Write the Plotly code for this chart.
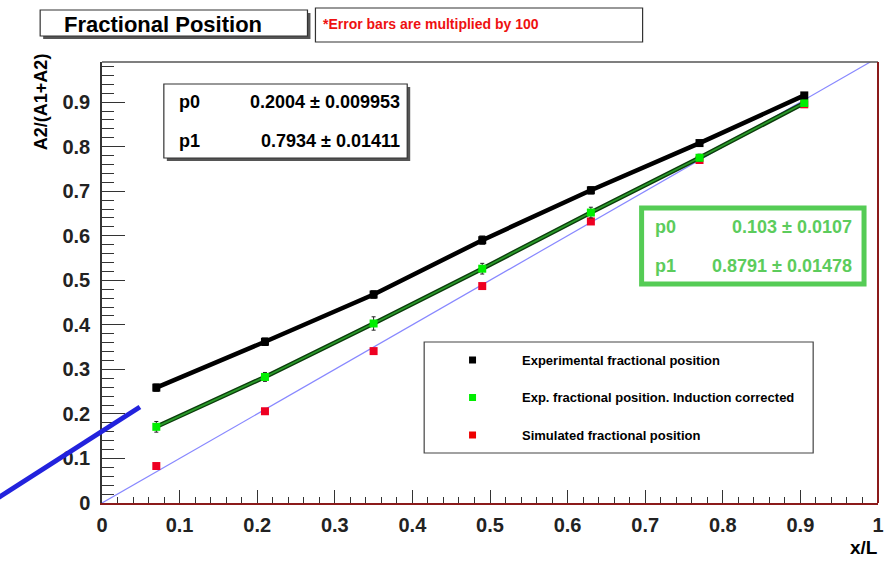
import plotly.graph_objects as go

# ---------------- data ----------------
x_pos = [0.07, 0.21, 0.35, 0.49, 0.63, 0.77, 0.905]
exp_frac = [0.259, 0.362, 0.468, 0.590, 0.702, 0.808, 0.915]
exp_err = [0.008, 0.008, 0.008, 0.009, 0.008, 0.006, 0.006]
corr_frac = [0.171, 0.283, 0.403, 0.526, 0.652, 0.775, 0.898]
corr_err = [0.012, 0.010, 0.015, 0.012, 0.012, 0.008, 0.006]
sim_frac = [0.083, 0.206, 0.341, 0.487, 0.632, 0.770, 0.895]
diag_x = [0.0, 0.99]
diag_y = [0.0, 0.99]
x_ticks = [0, 0.1, 0.2, 0.3, 0.4, 0.5, 0.6, 0.7, 0.8, 0.9, 1]
x_ticktext = ["0", "0.1", "0.2", "0.3", "0.4", "0.5", "0.6", "0.7", "0.8", "0.9", "1"]
y_ticks = [0, 0.1, 0.2, 0.3, 0.4, 0.5, 0.6, 0.7, 0.8, 0.9]
y_ticktext = ["0", "0.1", "0.2", "0.3", "0.4", "0.5", "0.6", "0.7", "0.8", "0.9"]
legend_labels = ["Experimental fractional position",
                 "Exp. fractional position. Induction corrected",
                 "Simulated fractional position"]
legend_colors = ["#000000", "#00ee00", "#ee0000"]
fit_black = ["p0", "0.2004 ± 0.009953", "p1", "0.7934 ± 0.01411"]
fit_green = ["p0", "0.103 ± 0.0107", "p1", "0.8791 ± 0.01478"]

W, H = 896, 576
L, R, T, B = 102, 880, 62, 503
FONT = "Liberation Sans, Arial, sans-serif"


def px(p):
    return (p - L) / (R - L)


def py(p):
    return (B - p) / (B - T)


fig = go.Figure()

# diagonal reference line
fig.add_trace(go.Scatter(x=diag_x, y=diag_y, mode="lines",
                         line=dict(color="#8888ff", width=1.2), showlegend=False))
# simulated
fig.add_trace(go.Scatter(x=x_pos, y=sim_frac, mode="markers",
                         marker=dict(symbol="square", size=8, color="#ee0022"),
                         showlegend=False))
# corrected (dark outline + green core)
fig.add_trace(go.Scatter(x=x_pos, y=corr_frac, mode="lines",
                         line=dict(color="#0b3d0b", width=4.5), showlegend=False))
fig.add_trace(go.Scatter(x=x_pos, y=corr_frac, mode="lines+markers",
                         line=dict(color="#2a9a2a", width=1.8),
                         marker=dict(symbol="square", size=8, color="#00ee00"),
                         error_y=dict(type="data", array=corr_err, color="#222222",
                                      thickness=1, width=2),
                         showlegend=False))
# experimental
fig.add_trace(go.Scatter(x=x_pos, y=exp_frac, mode="lines+markers",
                         line=dict(color="#000000", width=4.5),
                         marker=dict(symbol="square", size=8, color="#000000"),
                         error_y=dict(type="data", array=exp_err, color="#000000",
                                      thickness=1.2, width=3),
                         showlegend=False))

shapes = []
annotations = []

# frame: top and right borders
shapes.append(dict(type="line", xref="paper", yref="paper", x0=0, x1=1, y0=1, y1=1,
                   line=dict(color="#555555", width=1.5)))
shapes.append(dict(type="line", xref="paper", yref="paper", x0=1, x1=1, y0=0, y1=1,
                   line=dict(color="#8b1a1a", width=2)))


def box(x0, y0, x1, y1, color="#333333", width=1.2, shadow=True, fill="white"):
    if shadow:
        shapes.append(dict(type="rect", xref="paper", yref="paper",
                           x0=px(x0 + 3), x1=px(x1 + 3), y0=py(y1 + 3), y1=py(y0 + 3),
                           fillcolor="#555555", line=dict(width=0), layer="above"))
    shapes.append(dict(type="rect", xref="paper", yref="paper",
                       x0=px(x0), x1=px(x1), y0=py(y1), y1=py(y0),
                       fillcolor=fill, line=dict(color=color, width=width), layer="above"))


def text(x, y, s, size, color="#000000", xanchor="left", bold=True, angle=0):
    annotations.append(dict(x=px(x), y=py(y), xref="paper", yref="paper", text=s,
                            showarrow=False, xanchor=xanchor, yanchor="middle",
                            textangle=angle,
                            font=dict(family=FONT, size=size, color=color,
                                      weight="bold" if bold else "normal")))


# title boxes
box(40, 10, 308, 36, shadow=True)
text(163, 24, "Fractional Position", 22, xanchor="center")
box(316, 8, 644, 42, shadow=False)
text(322, 24, "*Error bars are multiplied by 100", 14, color="#ee1111")

# black fit box
box(164, 84, 408, 158)
text(177, 102, fit_black[0], 18)
text(403, 102, fit_black[1], 18, xanchor="right")
text(177, 141, fit_black[2], 18)
text(403, 141, fit_black[3], 18, xanchor="right")

# green fit box
shapes.append(dict(type="rect", xref="paper", yref="paper",
                   x0=px(643), x1=px(866), y0=py(284), y1=py(208),
                   fillcolor="white", line=dict(color="#55cc55", width=5), layer="above"))
text(654, 227, fit_green[0], 18, color="#5ccc5c")
text(856, 227, fit_green[1], 18, color="#5ccc5c", xanchor="right")
text(654, 266, fit_green[2], 18, color="#5ccc5c")
text(856, 266, fit_green[3], 18, color="#5ccc5c", xanchor="right")

# legend box
shapes.append(dict(type="rect", xref="paper", yref="paper",
                   x0=px(425), x1=px(815), y0=py(453), y1=py(342),
                   fillcolor="white", line=dict(color="#444444", width=1.2), layer="above"))
for i, (lab, col) in enumerate(zip(legend_labels, legend_colors)):
    yy = 360 + i * 37.5
    shapes.append(dict(type="rect", xref="paper", yref="paper",
                       x0=px(470), x1=px(477), y0=py(yy + 3.5), y1=py(yy - 3.5),
                       fillcolor=col, line=dict(width=0), layer="above"))
    text(521, yy, lab, 13)

# axis titles
text(866, 547, "x/L", 19, xanchor="center")
text(41, 102, "A2/(A1+A2)", 18, xanchor="center", angle=-90)

# thick blue line outside plot
shapes.append(dict(type="line", xref="paper", yref="paper",
                   x0=px(-4), y0=py(499), x1=px(140), y1=py(407),
                   line=dict(color="#2222dd", width=5), layer="above"))

fig.update_layout(
    width=W, height=H,
    margin=dict(l=L, r=W - R, t=T, b=H - B),
    paper_bgcolor="white", plot_bgcolor="white",
    shapes=shapes, annotations=annotations,
    showlegend=False,
    xaxis=dict(range=[0, 1], tickvals=x_ticks, ticktext=x_ticktext,
               showgrid=False, zeroline=False,
               showline=True, linecolor="#8b1a1a", linewidth=2,
               ticks="inside", ticklen=13, tickcolor="#333333", tickwidth=1,
               minor=dict(dtick=0.02, ticks="inside", ticklen=6, tickcolor="#333333"),
               tickfont=dict(family=FONT, size=20, color="#222222", weight="bold"),
               ticklabelstandoff=3),
    yaxis=dict(range=[0, 0.99], tickvals=y_ticks, ticktext=y_ticktext,
               showgrid=False, zeroline=False,
               showline=True, linecolor="#333333", linewidth=1.5,
               ticks="inside", ticklen=23, tickcolor="#333333", tickwidth=1,
               minor=dict(dtick=0.02, ticks="inside", ticklen=12, tickcolor="#333333"),
               tickfont=dict(family=FONT, size=20, color="#222222", weight="bold"),
               ticklabelstandoff=6),
)

fig.write_html("out.html")
